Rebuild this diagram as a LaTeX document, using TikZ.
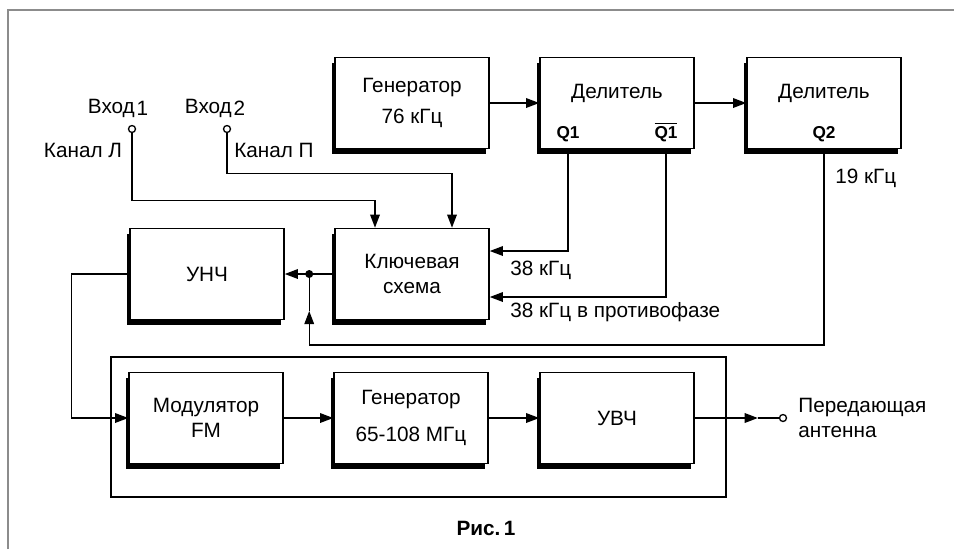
\documentclass[tikz,border=0pt]{standalone}
\usepackage{fontspec}
\setmainfont{Liberation Sans}
\usetikzlibrary{arrows.meta, calc, positioning, shadows}
\definecolor{grisMarco}{HTML}{8c8c8c}

\begin{document}
\begin{tikzpicture}[
  x=0.02cm, y=-0.02cm,
  % Estilos de bloques
  bloque/.style={
    rectangle, draw=black, fill=white,
    line width=0.9pt, align=center,
    font=\fontsize{11.8}{14}\selectfont,
    minimum width=3.08cm, minimum height=1.82cm,
    drop shadow={shadow xshift=-1.7pt, shadow yshift=-3.2pt,
                 fill=black, opacity=1}
  },
  etiq/.style={
    font=\fontsize{11.8}{14}\selectfont, inner sep=0pt
  },
  etiqQ/.style={
    font=\fontsize{9.8}{11}\selectfont\bfseries, inner sep=0pt
  },
  borne/.style={
    circle, draw=black, fill=white, line width=0.75pt,
    inner sep=0pt, minimum size=0.14cm
  },
  punto/.style={
    circle, fill=black, inner sep=0pt, minimum size=0.16cm
  },
  % Estilo de lineas y flechas
  linea/.style={line width=0.75pt},
  flecha/.style={
    -{Triangle[length=7.5pt, width=5.5pt]}, line width=0.75pt
  }
]
\useasboundingbox (0,0) rectangle (954,549);

% --- Marco exterior ---
\draw[grisMarco, line width=0.9pt] (8,549) -- (8,10) -- (954,10);

% --- Fila superior: generador y divisores ---
\node[bloque] (gen76) at (412,103) {Генератор\\[4pt]76 кГц};
\node[bloque] (div1)  at (617,103) {};
\node[bloque] (div2)  at (824,103) {};

\node[etiq, anchor=base]  (div1t) at (617,98)  {Делитель};
\node[etiq, anchor=base]  (div2t) at (824,98)  {Делитель};
\node[etiqQ, anchor=base] (q1)    at (568,138) {Q1};
\node[etiqQ, anchor=base] (q1b)   at (666,138) {$\overline{\mbox{Q1}}$};
\node[etiqQ, anchor=base] (q2)    at (824,138) {Q2};

% --- Fila central ---
\node[bloque] (unch) at (207,274) {УНЧ};
\node[bloque] (key)  at (412,274) {Ключевая\\схема};

% --- Entradas ---
\node[borne] (in1) at (132,129) {};
\node[borne] (in2) at (227,129) {};
\node[etiq, anchor=base] (in1t)  at (118,113) {Вход\kern1pt\raisebox{-1.5pt}{1}};
\node[etiq, anchor=base] (in2t)  at (215,113) {Вход\kern1pt\raisebox{-1.5pt}{2}};
\node[etiq, anchor=base] (canL)  at (83,157)  {Канал Л};
\node[etiq, anchor=base] (canP)  at (274,157) {Канал П};

% --- Bloque de RF ---
\draw[linea, line width=0.85pt] (111,357) rectangle (726,497);
\node[bloque] (mod)   at (206,418) {Модулятор\\FM};
\node[bloque] (gen65) at (411,418) {Генератор\\[7pt]65-108 МГц};
\node[bloque] (uvch)  at (617,418) {УВЧ};

\node[borne] (ant) at (783,418) {};
\node[etiq, anchor=west, align=left] (antt) at (798,418)
  {Передающая\\антенна};

% --- Etiquetas de frecuencia ---
\node[etiq, anchor=base west] (f19)  at (835,183) {19 кГц};
\node[etiq, anchor=base west] (f38)  at (510,275) {38 кГц};
\node[etiq, anchor=base west] (f38i) at (510,317) {38 кГц в противофазе};

% --- Pie ---
\node[etiq, font=\fontsize{11.8}{14}\selectfont\bfseries, anchor=base]
  (pie) at (486,535) {Рис.\,1};

% --- Puntos auxiliares ---
\node[punto] (nodo) at ($(key.west)+(-25,0)$) {};
\coordinate (k38)  at ($(key.east)+(0,-23)$);
\coordinate (k38i) at ($(key.east)+(0,23)$);
\coordinate (e1)   at ($(key.north)+(-37,0)$);
\coordinate (e2)   at ($(key.north)+(40,0)$);
\coordinate (c19)  at (311,345);
\coordinate (pil)  at ($(nodo)+(0,37)$);
\coordinate (pant) at ($(ant.west)+(-21,0)$);

% --- Flechas fila superior ---
\draw[flecha] (gen76) -- (div1);
\draw[flecha] (div1) -- (div2);

% --- Salidas de los divisores ---
\draw[flecha] (q1 |- div1.south) |- (k38);
\draw[flecha] (q1b |- div1.south) |- (k38i);
\draw[flecha] (q2 |- div2.south) -- (q2 |- c19) -| (pil);
\draw[linea] (pil) -- (nodo);

% --- Entradas a la llave ---
\draw[flecha] (in1.south) |- ($(e1)+(0,-27)$) -- (e1);
\draw[flecha] (in2.south) |- ($(e2)+(0,-54)$) -- (e2);

% --- Camino de la señal ---
\draw[flecha] (key) -- (unch);
\draw[flecha] (unch.west) -- ++(-58,0) |- (mod.west);
\draw[flecha] (mod) -- (gen65);
\draw[flecha] (gen65) -- (uvch);
\draw[flecha] (uvch) -- (pant);
\draw[linea] (pant) -- (ant);

\end{tikzpicture}
\end{document}
